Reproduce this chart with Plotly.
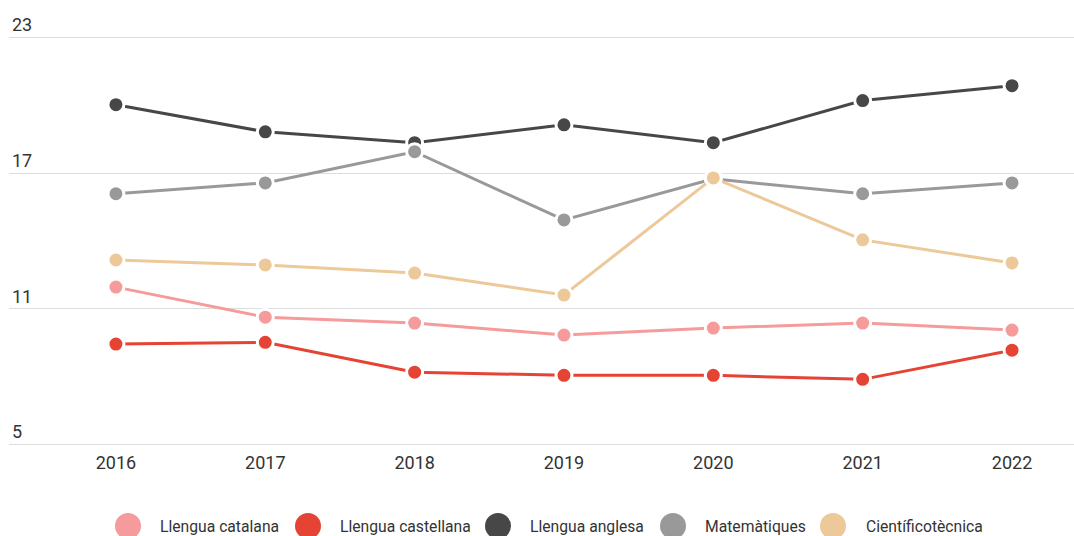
import plotly.graph_objects as go

years = [2016, 2017, 2018, 2019, 2020, 2021, 2022]
series_names = ["Llengua catalana", "Llengua castellana", "Llengua anglesa", "Matemàtiques", "Científicotècnica"]
catalana = [11.96, 10.63, 10.37, 9.84, 10.15, 10.37, 10.06]
castellana = [9.44, 9.52, 8.20, 8.06, 8.06, 7.88, 9.17]
anglesa = [20.03, 18.83, 18.35, 19.14, 18.35, 20.21, 20.87]
matematiques = [16.09, 16.57, 17.95, 14.93, 16.75, 16.09, 16.57]
cientifico = [13.16, 12.94, 12.58, 11.61, 16.79, 14.05, 13.03]
y_ticks = [5, 11, 17, 23]

colors = ["#F59B9B", "#E54333", "#474747", "#999999", "#EDC899"]
values = [catalana, castellana, anglesa, matematiques, cientifico]

fig = go.Figure()
for name, vals, col in zip(series_names, values, colors):
    fig.add_trace(go.Scatter(
        x=years, y=vals, name=name, mode="lines+markers",
        line=dict(color=col, width=3),
        marker=dict(size=16, color=col, line=dict(color="white", width=3)),
        showlegend=False,
    ))

W, H = 1074, 536
ml, mr, mt, mb = 9, 0, 33, 87
pw, ph = W - ml - mr, H - mt - mb

# custom legend (large circles)
legend_cx = [128, 308, 498, 673, 833]
legend_tx = [158, 338, 528, 703, 864]
ly = 526
for name, col, cx, tx in zip(series_names, colors, legend_cx, legend_tx):
    px = (cx - ml) / pw
    py = (H - mb - ly) / ph
    fig.add_shape(type="circle", xref="paper", yref="paper",
                  xsizemode="pixel", ysizemode="pixel",
                  xanchor=px, yanchor=py, x0=-13, x1=13, y0=-13, y1=13,
                  fillcolor=col, line=dict(width=0))
    fig.add_annotation(xref="paper", yref="paper", x=(tx - ml) / pw, y=py,
                       text=name, showarrow=False, xanchor="left", yanchor="middle",
                       font=dict(size=15.7, color="#333333", family="Roboto"))

fig.update_layout(
    width=W, height=H,
    margin=dict(l=ml, r=mr, t=mt, b=mb),
    paper_bgcolor="white", plot_bgcolor="white",
    font=dict(family="Roboto", color="#333333"),
    xaxis=dict(range=[2015.284, 2022.415], tickmode="array", tickvals=years,
               ticktext=[str(y) for y in years], showgrid=False, zeroline=False,
               showline=False, ticklabelstandoff=1,
               tickfont=dict(size=18, color="#333333")),
    yaxis=dict(range=[4.8, 23.2], tickmode="array", tickvals=y_ticks,
               ticktext=[str(v) for v in y_ticks],
               ticklabelposition="inside top", ticklabeloverflow="allow",
               showgrid=True,
               gridcolor="#DDDDDD", gridwidth=1, zeroline=False, showline=False,
               tickfont=dict(size=18, color="#333333")),
    showlegend=False,
)

fig.write_html("out.html", config={"displayModeBar": False},
               post_script="document.body.style.margin='0';document.body.style.padding='0';")
